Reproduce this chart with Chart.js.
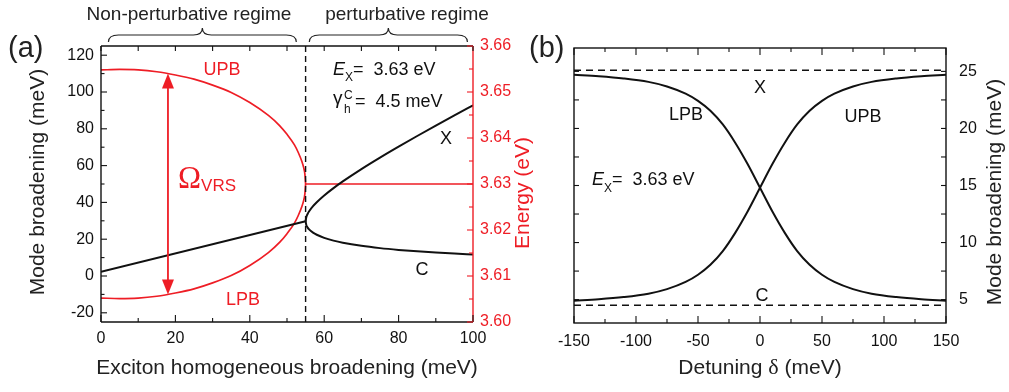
<!DOCTYPE html>
<html>
<head>
<meta charset="utf-8">
<script src="https://cdn.jsdelivr.net/npm/chart.js@4.4.1/dist/chart.umd.min.js"></script>
<style>
    html, body { margin: 0; padding: 0; background: #fff; }
    #wrap { position: relative; width: 1009px; height: 392px; overflow: hidden; }
    #cA { position: absolute; left: 0; top: 0; width: 545px; height: 392px; }
    #cB { position: absolute; left: 520px; top: 0; width: 489px; height: 392px; }
</style>
</head>
<body>
<div id="wrap">
    <canvas id="cA" width="545" height="392"></canvas>
    <canvas id="cB" width="489" height="392"></canvas>
</div>
<script>
// ---- panel (a): vs exciton homogeneous broadening (meV) ----
const gammaStrong = [0, 5, 10, 15, 20, 25, 30, 35, 40, 45, 48, 50, 52, 53, 54, 54.5, 54.8, 55];
const upbEnergy = [3.6548, 3.6549, 3.6548, 3.6544, 3.6537, 3.6528, 3.6515, 3.6499, 3.6477, 3.6449, 3.6427, 3.6408, 3.6385, 3.6369, 3.6349, 3.6335, 3.6322, 3.6300];
const lpbEnergy = [3.6052, 3.6051, 3.6052, 3.6056, 3.6063, 3.6072, 3.6085, 3.6101, 3.6123, 3.6151, 3.6173, 3.6192, 3.6215, 3.6231, 3.6251, 3.6265, 3.6278, 3.6300];
const gammaFlat = [55, 100];
const flatEnergy = [3.63, 3.63];
const gammaMixed = [0, 55];
const mixedWidth = [2.25, 29.75];
const gammaWeak = [55, 55.2, 55.5, 56, 57, 58, 60, 62.5, 65, 70, 75, 80, 85, 90, 95, 100];
const excitonWidth = [29.75, 32.10, 33.56, 35.30, 37.93, 40.08, 43.76, 47.76, 51.41, 58.11, 64.35, 70.31, 76.09, 81.75, 87.30, 92.78];
const cavityWidth = [29.75, 27.60, 26.44, 25.20, 23.57, 22.42, 20.74, 19.24, 18.09, 16.39, 15.15, 14.19, 13.41, 12.75, 12.20, 11.72];
const thresholdGamma = 55;
const arrowGamma = 18;
const arrowEnergy = [3.6540, 3.6060];

const xTicksA = [0, 20, 40, 60, 80, 100];
const xMinorA = [10, 30, 50, 70, 90];
const yTicksA = [-20, 0, 20, 40, 60, 80, 100, 120];
const yMinorA = [-10, 10, 30, 50, 70, 90, 110];
const eTicksA = [3.60, 3.61, 3.62, 3.63, 3.64, 3.65, 3.66];
const eMinorA = [3.605, 3.615, 3.625, 3.635, 3.645, 3.655];

// ---- panel (b): vs detuning (meV) ----
const detuning = [-150, -130, -110, -90, -75, -60, -50, -40, -30, -20, -10, 0, 10, 20, 30, 40, 50, 60, 75, 90, 110, 130, 150];
const lpbWidth = [24.70, 24.57, 24.38, 24.08, 23.68, 23.05, 22.42, 21.55, 20.35, 18.75, 16.88, 14.80, 12.72, 10.85, 9.25, 8.05, 7.18, 6.55, 5.92, 5.52, 5.22, 5.03, 4.90];
const upbWidth = [4.90, 5.03, 5.22, 5.52, 5.92, 6.55, 7.18, 8.05, 9.25, 10.85, 12.72, 14.80, 16.88, 18.75, 20.35, 21.55, 22.42, 23.05, 23.68, 24.08, 24.38, 24.57, 24.70];
const gammaX = 25.1;
const gammaC = 4.5;

const detTicks = [-150, -100, -50, 0, 50, 100, 150];
const detMinor = [-125, -75, -25, 25, 75, 125];
const wTicksB = [5, 10, 15, 20, 25];
const wMinorB = [7.5, 12.5, 17.5, 22.5];

const RED = '#ee1d25';
const INK = '#111111';
const SANS = "'Liberation Sans', Arial, Helvetica, sans-serif";
const SERIF = "'Liberation Serif', 'Times New Roman', serif";

Chart.defaults.font.family = SANS;
Chart.defaults.color = INK;

function pts(xs, ys) {
    return xs.map((v, i) => ({ x: v, y: ys[i] }));
}

function line(ctx, x1, y1, x2, y2) {
    ctx.beginPath();
    ctx.moveTo(x1, y1);
    ctx.lineTo(x2, y2);
    ctx.stroke();
}

function label(ctx, s, x, y, size, color, align, font) {
    ctx.font = size + 'px ' + (font || SANS);
    ctx.fillStyle = color || INK;
    ctx.textAlign = align || 'left';
    ctx.textBaseline = 'alphabetic';
    ctx.fillText(s, x, y);
    return ctx.measureText(s).width;
}

function vlabel(ctx, s, x, y, size, color) {
    ctx.save();
    ctx.translate(x, y);
    ctx.rotate(-Math.PI / 2);
    ctx.font = size + 'px ' + SANS;
    ctx.fillStyle = color || INK;
    ctx.textAlign = 'center';
    ctx.textBaseline = 'middle';
    ctx.fillText(s, 0, 0);
    ctx.restore();
}

function brace(ctx, x1, x2, yEnd, yFlat, yTip) {
    const mid = (x1 + x2) / 2;
    ctx.beginPath();
    ctx.moveTo(x1, yEnd);
    ctx.quadraticCurveTo(x1, yFlat, x1 + 10, yFlat);
    ctx.lineTo(mid - 9, yFlat);
    ctx.quadraticCurveTo(mid, yFlat, mid, yTip);
    ctx.quadraticCurveTo(mid, yFlat, mid + 9, yFlat);
    ctx.lineTo(x2 - 10, yFlat);
    ctx.quadraticCurveTo(x2, yFlat, x2, yEnd);
    ctx.stroke();
}

function arrowHead(ctx, x, yTip, dir) {
    ctx.beginPath();
    ctx.moveTo(x, yTip);
    ctx.lineTo(x - 6, yTip + dir * 15);
    ctx.lineTo(x + 6, yTip + dir * 15);
    ctx.closePath();
    ctx.fill();
}

function curve(data, color, width) {
    return {
        data: data,
        borderColor: color,
        borderWidth: width,
        pointRadius: 0,
        fill: false,
        cubicInterpolationMode: 'monotone'
    };
}

function dashed(data, dash) {
    return {
        data: data,
        borderColor: INK,
        borderWidth: 1.4,
        borderDash: dash,
        pointRadius: 0,
        fill: false,
        tension: 0
    };
}

function setTicks(list) {
    return scale => { scale.ticks = list.map(v => ({ value: v })); };
}

const tickFont = { family: SANS, size: 16 };

// ---------- panel (a) ----------
const panelA = {
    id: 'panelA',
    afterDraw(chart) {
        const { ctx, chartArea: a } = chart;
        const { x, y, y2 } = chart.scales;
        ctx.save();

        // frame
        ctx.lineWidth = 1.4;
        ctx.strokeStyle = INK;
        line(ctx, a.left, a.top, a.right, a.top);
        line(ctx, a.left, a.top, a.left, a.bottom);
        line(ctx, a.left, a.bottom, a.right, a.bottom);
        ctx.strokeStyle = RED;
        line(ctx, a.right, a.top, a.right, a.bottom);

        // ticks, all pointing inward
        ctx.lineWidth = 1.1;
        ctx.strokeStyle = INK;
        xTicksA.forEach(v => {
            const p = x.getPixelForValue(v);
            line(ctx, p, a.bottom, p, a.bottom - 7);
            line(ctx, p, a.top, p, a.top + 5);
        });
        xMinorA.forEach(v => {
            const p = x.getPixelForValue(v);
            line(ctx, p, a.bottom, p, a.bottom - 4);
            line(ctx, p, a.top, p, a.top + 5);
        });
        yTicksA.forEach(v => {
            const p = y.getPixelForValue(v);
            line(ctx, a.left, p, a.left + 6, p);
        });
        yMinorA.forEach(v => {
            const p = y.getPixelForValue(v);
            line(ctx, a.left, p, a.left + 3.5, p);
        });
        ctx.strokeStyle = RED;
        eTicksA.forEach(v => {
            const p = y2.getPixelForValue(v);
            line(ctx, a.right, p, a.right - 6, p);
        });
        eMinorA.forEach(v => {
            const p = y2.getPixelForValue(v);
            line(ctx, a.right, p, a.right - 4, p);
        });

        // vacuum Rabi splitting arrow
        const ax = x.getPixelForValue(arrowGamma);
        const aTop = y2.getPixelForValue(arrowEnergy[0]);
        const aBot = y2.getPixelForValue(arrowEnergy[1]);
        ctx.strokeStyle = RED;
        ctx.fillStyle = RED;
        ctx.lineWidth = 1.8;
        line(ctx, ax, aTop + 10, ax, aBot - 10);
        arrowHead(ctx, ax, aTop, 1);
        arrowHead(ctx, ax, aBot, -1);

        // regime braces
        ctx.strokeStyle = '#222';
        ctx.lineWidth = 1.2;
        brace(ctx, x.getPixelForValue(2), x.getPixelForValue(52.5), 42, 35, 28);
        brace(ctx, x.getPixelForValue(56), x.getPixelForValue(98.5), 42, 35, 28);
        label(ctx, 'Non-perturbative regime', 189, 20, 19, '#222', 'center');
        label(ctx, 'perturbative regime', 407, 20, 19, '#222', 'center');

        // panel letter
        label(ctx, '(a)', 8, 57, 29, '#222');

        // curve labels
        label(ctx, 'UPB', 222, 75, 18, RED, 'center');
        label(ctx, 'LPB', 243, 305, 18, RED, 'center');
        let w = label(ctx, '\u03A9', 178, 188, 31, RED, 'left', SERIF);
        label(ctx, 'VRS', 178 + w, 191, 17, RED);
        label(ctx, 'X', 446, 144, 18, INK, 'center');
        label(ctx, 'C', 422, 275, 18, INK, 'center');

        // parameters
        ctx.font = 'italic 18px ' + SANS;
        ctx.fillStyle = INK;
        ctx.textAlign = 'left';
        ctx.fillText('E', 333, 75);
        w = ctx.measureText('E').width;
        label(ctx, 'X', 333 + w, 81, 12);
        label(ctx, '=  3.63 eV', 353, 75, 18);
        label(ctx, '\u03B3', 333, 104, 19);
        label(ctx, 'C', 344, 99, 12);
        label(ctx, 'h', 344, 113, 12);
        label(ctx, '=  4.5 meV', 355, 107, 18);

        // axis titles
        label(ctx, 'Exciton homogeneous broadening (meV)', 287, 374, 21, '#222', 'center');
        vlabel(ctx, 'Mode broadening (meV)', 38, 182, 21, '#222');
        vlabel(ctx, 'Energy (eV)', 523, 193, 21, RED);

        ctx.restore();
    }
};

new Chart(document.getElementById('cA'), {
    type: 'line',
    data: {
        datasets: [
            dashed([{ x: thresholdGamma, y: -25 }, { x: thresholdGamma, y: 125 }], [6, 4]),
            curve(pts(gammaMixed, mixedWidth), INK, 2),
            curve(pts(gammaWeak, excitonWidth), INK, 2),
            curve(pts(gammaWeak, cavityWidth), INK, 2),
            Object.assign(curve(pts(gammaStrong, upbEnergy), RED, 1.7), { yAxisID: 'y2' }),
            Object.assign(curve(pts(gammaStrong, lpbEnergy), RED, 1.7), { yAxisID: 'y2' }),
            Object.assign(curve(pts(gammaFlat, flatEnergy), RED, 1.7), { yAxisID: 'y2' })
        ]
    },
    options: {
        responsive: false,
        animation: false,
        events: [],
        layout: { padding: { top: 46, left: 0, right: 0, bottom: 0 } },
        plugins: { legend: { display: false }, tooltip: { enabled: false } },
        scales: {
            x: {
                type: 'linear', min: 0, max: 100,
                afterBuildTicks: setTicks(xTicksA),
                afterFit: s => { s.height = 70; },
                grid: { display: false, drawTicks: false },
                border: { display: false },
                ticks: { padding: 7, color: INK, font: tickFont, maxRotation: 0, autoSkip: false }
            },
            y: {
                type: 'linear', position: 'left', min: -25, max: 125,
                afterBuildTicks: setTicks(yTicksA),
                afterFit: s => { s.width = 101; },
                grid: { display: false, drawTicks: false },
                border: { display: false },
                ticks: { padding: 7, color: INK, font: tickFont, autoSkip: false }
            },
            y2: {
                type: 'linear', position: 'right', min: 3.60, max: 3.66,
                afterBuildTicks: setTicks(eTicksA),
                afterFit: s => { s.width = 72; },
                grid: { display: false, drawTicks: false },
                border: { display: false },
                ticks: { padding: 7, color: RED, font: tickFont, autoSkip: false, callback: v => v.toFixed(2) }
            }
        }
    },
    plugins: [panelA]
});

// ---------- panel (b) ----------
const panelB = {
    id: 'panelB',
    afterDraw(chart) {
        const { ctx, chartArea: a } = chart;
        const { x, y } = chart.scales;
        ctx.save();

        ctx.lineWidth = 1.4;
        ctx.strokeStyle = INK;
        ctx.strokeRect(a.left, a.top, a.right - a.left, a.bottom - a.top);

        ctx.lineWidth = 1.1;
        detTicks.forEach(v => {
            const p = x.getPixelForValue(v);
            line(ctx, p, a.bottom, p, a.bottom - 7);
            line(ctx, p, a.top, p, a.top + 7);
        });
        detMinor.forEach(v => {
            const p = x.getPixelForValue(v);
            line(ctx, p, a.bottom, p, a.bottom - 4);
            line(ctx, p, a.top, p, a.top + 4);
        });
        wTicksB.concat(wMinorB).forEach(v => {
            const p = y.getPixelForValue(v);
            line(ctx, a.left, p, a.left + 5, p);
            line(ctx, a.right, p, a.right - 5, p);
        });

        label(ctx, '(b)', 9, 57, 29, '#222');

        label(ctx, 'LPB', 166, 120, 18, INK, 'center');
        label(ctx, 'UPB', 343, 122, 18, INK, 'center');
        label(ctx, 'X', 240, 93, 18, INK, 'center');
        label(ctx, 'C', 242, 301, 18, INK, 'center');

        ctx.font = 'italic 18px ' + SANS;
        ctx.fillStyle = INK;
        ctx.textAlign = 'left';
        ctx.fillText('E', 72, 185);
        const w = ctx.measureText('E').width;
        label(ctx, 'X', 72 + w, 192, 12);
        label(ctx, '=  3.63 eV', 92, 185, 18);

        // x title with serif delta
        ctx.font = '21px ' + SANS;
        const t1 = 'Detuning ', t3 = ' (meV)';
        ctx.font = '21px ' + SANS;
        const w1 = ctx.measureText(t1).width, w3 = ctx.measureText(t3).width;
        ctx.font = '22px ' + SERIF;
        const w2 = ctx.measureText('\u03B4').width;
        let sx = (a.left + a.right) / 2 - (w1 + w2 + w3) / 2;
        label(ctx, t1, sx, 374, 21, '#222');
        label(ctx, '\u03B4', sx + w1, 374, 22, '#222', 'left', SERIF);
        label(ctx, t3, sx + w1 + w2, 374, 21, '#222');

        vlabel(ctx, 'Mode broadening (meV)', 475, 192, 21, '#222');

        ctx.restore();
    }
};

new Chart(document.getElementById('cB'), {
    type: 'line',
    data: {
        datasets: [
            dashed(pts([-150, 150], [gammaX, gammaX]), [7, 5]),
            dashed(pts([-150, 150], [gammaC, gammaC]), [7, 5]),
            curve(pts(detuning, lpbWidth), INK, 2),
            curve(pts(detuning, upbWidth), INK, 2)
        ]
    },
    options: {
        responsive: false,
        animation: false,
        events: [],
        layout: { padding: { top: 48, left: 54, right: 0, bottom: 0 } },
        plugins: { legend: { display: false }, tooltip: { enabled: false } },
        scales: {
            x: {
                type: 'linear', min: -150, max: 150,
                afterBuildTicks: setTicks(detTicks),
                afterFit: s => { s.height = 69; },
                grid: { display: false, drawTicks: false },
                border: { display: false },
                ticks: { padding: 9, color: INK, font: tickFont, maxRotation: 0, autoSkip: false }
            },
            y: {
                type: 'linear', position: 'right', min: 2.95, max: 27.05,
                afterBuildTicks: setTicks(wTicksB),
                afterFit: s => { s.width = 63; },
                grid: { display: false, drawTicks: false },
                border: { display: false },
                ticks: { padding: 13, color: INK, font: tickFont, autoSkip: false }
            }
        }
    },
    plugins: [panelB]
});
</script>
</body>
</html>
